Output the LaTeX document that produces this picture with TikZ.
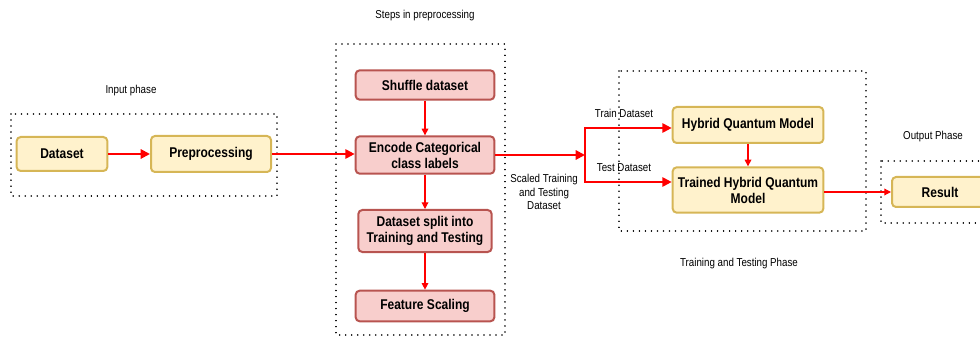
\documentclass[tikz,border=0pt]{standalone}
\usepackage{fontspec}
\setmainfont{Liberation Sans}
\newfontfamily\narrowfont[FakeStretch=0.85]{Liberation Sans}
\usetikzlibrary{arrows.meta}

\tikzset{every picture/.style={line width=0.75pt}}
\tikzset{
  yellowbox/.style={draw=yellowline, fill=yellowfill, line width=1.5pt, rounded corners=3pt, align=center, font=\narrowfont\fontsize{10.6}{12}\selectfont\bfseries, inner sep=0pt},
  redbox/.style={draw=redline, fill=redfill, line width=1.5pt, rounded corners=3pt, align=center, font=\narrowfont\fontsize{10.6}{12}\selectfont\bfseries, inner sep=0pt},
  phasebox/.style={draw=black, line width=1.2pt, dash pattern=on 0.01pt off 4.5pt, line cap=round},
  phaselabel/.style={inner sep=0.75pt, align=center, font=\narrowfont\fontsize{8.6}{10}\selectfont},
  thickarrow/.style={draw=arrowred, line width=1.5pt, -{Triangle[length=7pt,width=7pt]}},
  thinarrow/.style={draw=arrowred, line width=0.9pt, -{Triangle[length=5pt,width=5pt]}}
}
\definecolor{yellowfill}{HTML}{FFF2CC}
\definecolor{yellowline}{HTML}{D6B656}
\definecolor{redfill}{HTML}{F8CECC}
\definecolor{redline}{HTML}{B85450}
\definecolor{arrowred}{HTML}{FF0000}

\begin{document}
\begin{tikzpicture}[x=0.75pt,y=0.75pt,yscale=-1,xscale=1]
\useasboundingbox (0,0) rectangle (980,338);
\clip (0,0) rectangle (980,338);

%Dotted boxes
\draw [phasebox] (11,114) rectangle (277,196) ;
\draw [phasebox] (336,44) rectangle (505,335) ;
\draw [phasebox] (619,71) rectangle (866,231) ;
\draw [phasebox] (881,161) rectangle (1000,223) ;

% Text Node
\node [phaselabel] (inlbl) at (131,91) {Input phase};
% Text Node
\node [phaselabel] (prelbl) at (425,16) {Steps in preprocessing};
% Text Node
\node [phaselabel] (trlbl) at (739,264) {Training and Testing Phase};
% Text Node
\node [phaselabel] (outlbl) at (933,137) {Output Phase};

% Input phase
\node [yellowbox, minimum width=68pt, minimum height=25.5pt] (dataset) at (62,154) {Dataset};
\node [yellowbox, minimum width=90pt, minimum height=27pt] (preproc) at (211,154) {Preprocessing};

% Steps in preprocessing
\node [redbox, minimum width=104pt, minimum height=22pt] (shuffle) at (425,85) {Shuffle dataset};
\node [redbox, minimum width=104pt, minimum height=28pt] (encode) at (425,155) {Encode Categorical\\class labels};
\node [redbox, minimum width=100pt, minimum height=31.5pt] (split) at (425,231) {Dataset split into\\Training and Testing};
\node [redbox, minimum width=104pt, minimum height=23pt] (scaling) at (425,306) {Feature Scaling};

% Training and testing phase
\node [yellowbox, minimum width=113pt, minimum height=27pt] (hybrid) at (748,125) {Hybrid Quantum Model};
\node [yellowbox, minimum width=113pt, minimum height=34pt] (trained) at (748,190) {Trained Hybrid Quantum\\Model};

% Output phase
\node [yellowbox, minimum width=72pt, minimum height=22.5pt] (result) at (940,192) {Result};

\coordinate (branch) at (585,155);

% Text Node
\node [phaselabel] (scaledlbl) at (544,192) {Scaled Training\\and Testing\\Dataset};
% Text Node
\node [phaselabel] (trainlbl) at (624,113) {Train Dataset};
% Text Node
\node [phaselabel] (testlbl) at (624,168) {Test Dataset};

%Arrows
\draw [thickarrow] (dataset) -- (preproc) ;
\draw [thickarrow] (preproc.east) -- (preproc.east -| encode.west) ;
\draw [thickarrow] (encode) -- (branch) ;
\draw [thickarrow] (branch) |- ([yshift=2.25pt]hybrid.west) ;
\draw [thickarrow] (branch) |- ([yshift=-6pt]trained.west) ;
\draw [thinarrow] (shuffle) -- (encode) ;
\draw [thinarrow] (encode) -- (split) ;
\draw [thinarrow] (split) -- (scaling) ;
\draw [thinarrow] (hybrid) -- (trained) ;
\draw [thinarrow] (trained.east |- result.west) -- (result.west) ;

\end{tikzpicture}
\end{document}
